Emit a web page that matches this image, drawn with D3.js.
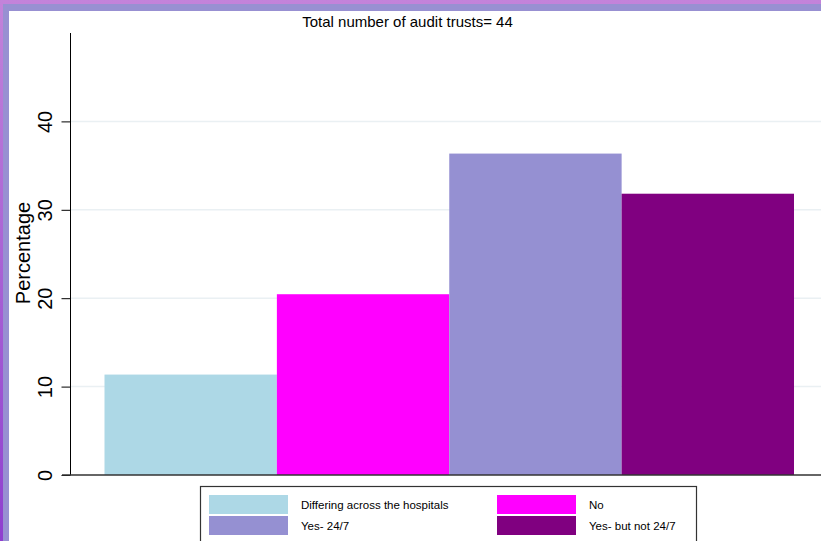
<!DOCTYPE html>
<html><head><meta charset="utf-8">
<script src="https://cdn.jsdelivr.net/npm/d3@7"></script>
<style>html,body{margin:0;padding:0;background:#fff;}svg{display:block;}</style>
</head><body>
<script>
const categories = ["Differing across the hospitals", "No", "Yes- 24/7", "Yes- but not 24/7"];
const values = [11.36, 20.45, 36.36, 31.82];
const colors = ["#add8e6", "#ff00ff", "#9590d2", "#800080"];
const yTicks = [0, 10, 20, 30, 40];
const title = "Total number of audit trusts= 44";
const yLabel = "Percentage";

const W = 821, H = 541;
const svg = d3.select("body").append("svg").attr("width", W).attr("height", H);
const defs = svg.append("defs");
const g1 = defs.append("linearGradient").attr("id", "outer").attr("x1", 0).attr("y1", 0).attr("x2", 0).attr("y2", 1);
g1.append("stop").attr("offset", "0%").attr("stop-color", "#c383da");
g1.append("stop").attr("offset", "100%").attr("stop-color", "#8f3fcf");

// frame
svg.append("rect").attr("x", 0).attr("y", 0).attr("width", W).attr("height", H).attr("fill", "url(#outer)");
svg.append("rect").attr("x", 3).attr("y", 4).attr("width", W).attr("height", H).attr("fill", "#9890d2");
svg.append("rect").attr("x", 9).attr("y", 11).attr("width", W).attr("height", H).attr("fill", "#ffffff");

const axisX = 70.5;
const y = d3.scaleLinear().domain([0, 50]).range([475, 33]);
const x = d3.scaleBand().domain(categories).range([104.5, 794]).padding(0);
const font = "Liberation Sans, Arial, sans-serif";

// gridlines
svg.append("g").selectAll("line").data(yTicks.filter(d => d > 0)).join("line")
  .attr("x1", axisX).attr("x2", W).attr("y1", d => y(d)).attr("y2", d => y(d))
  .attr("stroke", "#eaf0f3").attr("stroke-width", 1.5);

// bars
svg.append("g").selectAll("rect").data(values).join("rect")
  .attr("x", (d, i) => x(categories[i]))
  .attr("width", x.bandwidth())
  .attr("y", d => y(d))
  .attr("height", d => y(0) - y(d))
  .attr("fill", (d, i) => colors[i]);

// y axis
const yAxis = d3.axisLeft(y).tickValues(yTicks).tickSize(9);
const ag = svg.append("g").attr("transform", `translate(${axisX},0)`).call(yAxis);
ag.select(".domain").attr("stroke", "#000").attr("d", `M0,${y(0)}V${y(50)}`);
ag.selectAll(".tick line").attr("stroke", "#000");
ag.selectAll(".tick text")
  .attr("font-family", font).attr("font-size", 20).attr("fill", "#000")
  .attr("text-anchor", "middle").attr("x", null).attr("dy", null)
  .attr("transform", "translate(-26,0) rotate(-90)")
  .attr("dominant-baseline", "central");

// baseline
svg.append("line").attr("x1", 62).attr("x2", W).attr("y1", y(0)).attr("y2", y(0))
  .attr("stroke", "#333").attr("stroke-width", 1.5);

// y label
svg.append("text").attr("transform", `translate(30,253) rotate(-90)`)
  .attr("text-anchor", "middle").attr("font-family", font)
  .attr("font-size", 20).attr("fill", "#000").text(yLabel);

// title
svg.append("text").attr("x", 407.5).attr("y", 27).attr("text-anchor", "middle")
  .attr("font-family", font).attr("font-size", 15).attr("fill", "#000").text(title);

// legend
const lg = svg.append("g");
lg.append("rect").attr("x", 200.5).attr("y", 486.5).attr("width", 496).attr("height", 70)
  .attr("fill", "#fff").attr("stroke", "#333").attr("stroke-width", 1.2);
const pos = [[209, 495], [497, 495], [209, 516], [497, 516]];
categories.forEach((c, i) => {
  const [px, py] = pos[i];
  lg.append("rect").attr("x", px).attr("y", py).attr("width", 79).attr("height", 19).attr("fill", colors[i]);
  lg.append("text").attr("x", px + 92).attr("y", py + 14).attr("font-family", font)
    .attr("font-size", 11.5).attr("fill", "#000").text(c);
});
</script>
</body></html>
